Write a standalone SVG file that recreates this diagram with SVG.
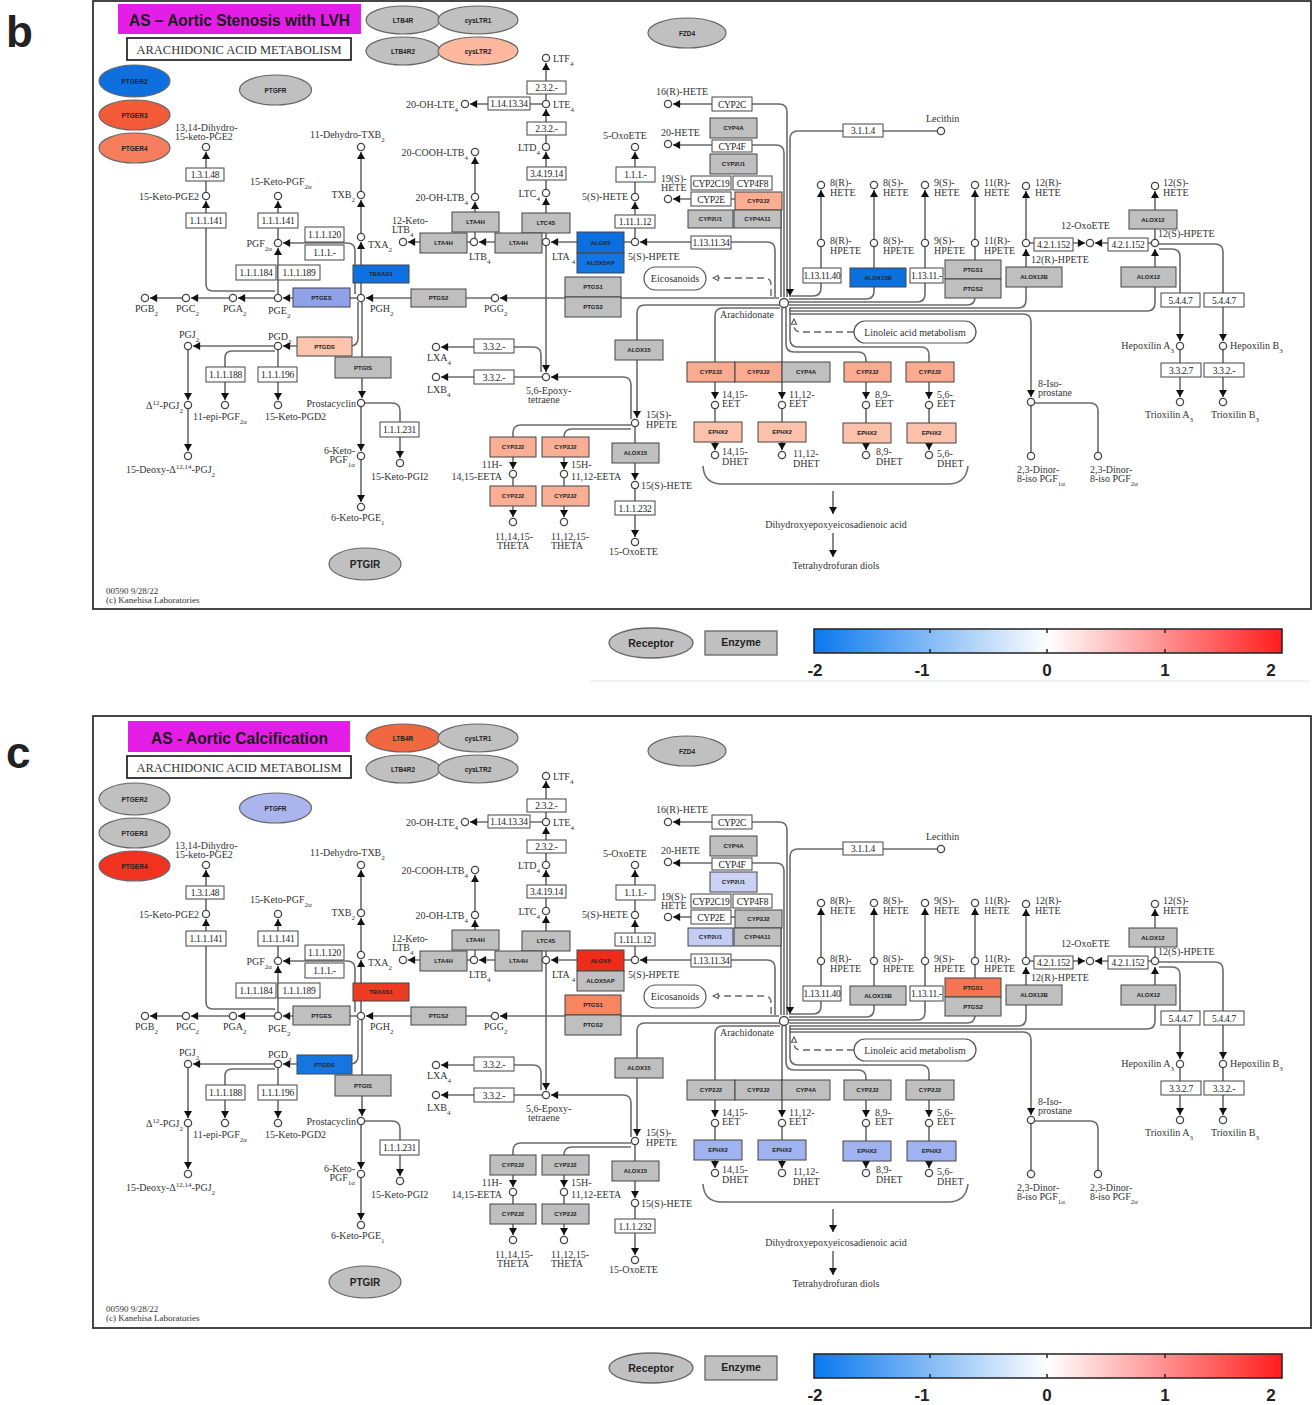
<svg xmlns="http://www.w3.org/2000/svg" width="1314" height="1405" viewBox="0 0 1314 1405">
<style>
.t{font-family:"Liberation Serif","Times New Roman",serif;font-size:10px;fill:#333}
.te{text-anchor:end}
.tm{text-anchor:middle}
.sb{font-size:7px;baseline-shift:sub}
.sp{font-size:7px;baseline-shift:super}
.ec{fill:#fff;stroke:#444;stroke-width:1}
.et{font-family:"Liberation Serif",serif;font-size:9.5px;fill:#222;text-anchor:middle;letter-spacing:-0.3px}
.gb{stroke:#444;stroke-width:1}
.gt{font-family:"Liberation Sans",Arial,sans-serif;font-size:6px;font-weight:bold;fill:#222;text-anchor:middle}
.rc{stroke:#666;stroke-width:1.2}
.rt{font-family:"Liberation Sans",Arial,sans-serif;font-size:6.5px;font-weight:bold;fill:#222;text-anchor:middle}
.c{fill:#fff;stroke:#444;stroke-width:1.3}
.l{fill:none;stroke:#6b6b6b;stroke-width:1.6}
.la{fill:none;stroke:#6b6b6b;stroke-width:1.6;marker-end:url(#ah)}
.d{fill:none;stroke:#666;stroke-width:1.4;stroke-dasharray:7 4;marker-end:url(#oa)}
.lg{font-family:"Liberation Sans",Arial,sans-serif;font-weight:bold;fill:#222}
</style>
<defs>
<linearGradient id="cb" x1="0" x2="1" y1="0" y2="0"><stop offset="0" stop-color="#0a78ee"/><stop offset="0.5" stop-color="#ffffff"/><stop offset="1" stop-color="#ff1e1e"/></linearGradient>
<marker id="ah" viewBox="0 0 8 9" refX="8" refY="4.5" markerWidth="8" markerHeight="8" markerUnits="userSpaceOnUse" orient="auto"><path d="M0,0 L8,4.5 L0,9 Z" fill="#111"/></marker>
<marker id="oa" viewBox="0 0 8 8" refX="7" refY="4" markerWidth="7" markerHeight="7" markerUnits="userSpaceOnUse" orient="auto"><path d="M1,1 L7,4 L1,7 Z" fill="#fff" stroke="#555" stroke-width="1.2"/></marker>
<g id="pw">
<g id="connectors">
<path class="la" d="M206,192V152"/>
<path class="la" d="M275,291H213Q206,291 206,284V201"/>
<path class="la" d="M278,239V201"/>
<path class="la" d="M278,294V248"/>
<path class="la" d="M355,294V251Q355,243 347,243H283"/>
<path class="la" d="M361,294V242"/>
<path class="la" d="M361,233V200"/>
<path class="la" d="M361,191V152"/>
<path class="la" d="M357,298H283"/>
<path class="la" d="M274,298H238"/>
<path class="la" d="M229,298H191"/>
<path class="la" d="M182,298H150"/>
<path class="la" d="M358,302V338Q358,346 350,346H283"/>
<path class="la" d="M362,302V398"/>
<path class="la" d="M274,346H193"/>
<path class="la" d="M278,350V400"/>
<path class="la" d="M275,351H232Q225,351 225,358V400"/>
<path class="la" d="M188,350V400"/>
<path class="la" d="M188,409V451"/>
<path class="la" d="M361,407V451"/>
<path class="la" d="M361,460V502"/>
<path class="la" d="M365,403H392Q400,403 400,411V458"/>
<path class="la" d="M491,298H366"/>
<path class="la" d="M779,298H500"/>
<path class="la" d="M631,242H551"/>
<path class="la" d="M542,242H479"/>
<path class="la" d="M470,242H408"/>
<path class="la" d="M475,238V202"/>
<path class="la" d="M475,193V157"/>
<path class="la" d="M546,238V198"/>
<path class="la" d="M546,189V152"/>
<path class="la" d="M546,143V109"/>
<path class="la" d="M546,100V63"/>
<path class="la" d="M542,104H470"/>
<path class="la" d="M546,246V372"/>
<path class="la" d="M541,372V355Q541,347 533,347H441"/>
<path class="la" d="M542,377H441"/>
<path class="la" d="M631,419V385Q631,377 623,377H551"/>
<path class="la" d="M635,238V202"/>
<path class="la" d="M635,193V152"/>
<path class="la" d="M775,297V250Q775,242 767,242H640"/>
<path class="la" d="M787,297V112Q787,104 779,104H673"/>
<path class="la" d="M784,297V153Q784,145 776,145H673"/>
<path class="la" d="M781,297V207Q781,199 773,199H673"/>
<path class="la" d="M937,131H798Q790,131 790,139V296"/>
<path class="d" d="M771,296V285Q771,278 764,278H713"/>
<path class="d" d="M854,332H801Q794,332 794,325V319"/>
<path class="l" d="M789,296H813Q821,296 821,288V247"/>
<path class="l" d="M789,299H866Q874,299 874,291V247"/>
<path class="l" d="M789,302H917Q925,302 925,294V247"/>
<path class="l" d="M789,305H967Q975,305 975,297V247"/>
<path class="la" d="M789,308H1018Q1026,308 1026,300V249"/>
<path class="la" d="M789,311H1147Q1155,311 1155,303V249"/>
<path class="la" d="M789,314H1023Q1031,314 1031,322V397"/>
<path class="la" d="M821,239V190"/>
<path class="la" d="M874,239V190"/>
<path class="la" d="M925,239V190"/>
<path class="la" d="M975,239V190"/>
<path class="la" d="M1026,239V191"/>
<path class="la" d="M1155,239V191"/>
<path class="la" d="M1030,243H1085"/>
<path class="la" d="M1151,243H1095"/>
<path class="la" d="M1159,244H1215Q1223,244 1223,252V341"/>
<path class="la" d="M1159,249H1172Q1180,249 1180,257V341"/>
<path class="la" d="M1180,350V397"/>
<path class="la" d="M1223,350V397"/>
<path class="l" d="M1031,406V452"/>
<path class="l" d="M1035,403H1090Q1098,403 1098,411V452"/>
<path class="la" d="M780,308H723Q715,308 715,316V399"/>
<path class="la" d="M782,308V399"/>
<path class="la" d="M786,308V344Q786,352 794,352H858Q866,352 866,360V399"/>
<path class="la" d="M790,308V339Q790,347 798,347H921Q929,347 929,355V399"/>
<path class="la" d="M715,409V450"/>
<path class="la" d="M782,409V450"/>
<path class="la" d="M866,409V450"/>
<path class="la" d="M929,409V450"/>
<path class="la" d="M780,305H645Q637,305 637,313V418"/>
<path class="la" d="M635,427V480"/>
<path class="la" d="M635,489V537"/>
<path class="la" d="M631,425H521Q513,425 513,433V469"/>
<path class="la" d="M631,429H572Q564,429 564,437V469"/>
<path class="la" d="M513,478V517"/>
<path class="la" d="M564,478V517"/>
<path class="l" d="M703,466Q704,484 722,484H948Q966,484 968,466"/>
<path class="la" d="M833,491V514"/>
<path class="la" d="M833,533V557"/>
</g>
<g id="ec-boxes">
<g id="ec-1.3.1.48"><rect class="ec" x="186" y="168" width="38" height="13"/><text class="et" x="205" y="178">1.3.1.48</text></g>
<g id="ec-1.1.1.141a"><rect class="ec" x="186" y="213" width="40" height="15"/><text class="et" x="206" y="224">1.1.1.141</text></g>
<g id="ec-1.1.1.141b"><rect class="ec" x="258" y="213" width="40" height="15"/><text class="et" x="278" y="224">1.1.1.141</text></g>
<g id="ec-1.1.1.120"><rect class="ec" x="305" y="227" width="39" height="15"/><text class="et" x="324.5" y="238">1.1.1.120</text></g>
<g id="ec-1.1.1.-a"><rect class="ec" x="305" y="245" width="39" height="15"/><text class="et" x="324.5" y="256">1.1.1.-</text></g>
<g id="ec-1.1.1.184"><rect class="ec" x="236" y="265" width="40" height="15"/><text class="et" x="256" y="276">1.1.1.184</text></g>
<g id="ec-1.1.1.189"><rect class="ec" x="278" y="265" width="42" height="15"/><text class="et" x="299" y="276">1.1.1.189</text></g>
<g id="ec-1.1.1.188"><rect class="ec" x="206" y="367" width="39" height="15"/><text class="et" x="225.5" y="378">1.1.1.188</text></g>
<g id="ec-1.1.1.196"><rect class="ec" x="258" y="367" width="39" height="15"/><text class="et" x="277.5" y="378">1.1.1.196</text></g>
<g id="ec-1.1.1.231"><rect class="ec" x="380" y="422" width="39" height="15"/><text class="et" x="399.5" y="433">1.1.1.231</text></g>
<g id="ec-2.3.2.-a"><rect class="ec" x="527" y="81" width="39" height="13"/><text class="et" x="546.5" y="91">2.3.2.-</text></g>
<g id="ec-1.14.13.34"><rect class="ec" x="488" y="97" width="42" height="13"/><text class="et" x="509" y="107">1.14.13.34</text></g>
<g id="ec-2.3.2.-b"><rect class="ec" x="527" y="122" width="39" height="13"/><text class="et" x="546.5" y="132">2.3.2.-</text></g>
<g id="ec-3.4.19.14"><rect class="ec" x="527" y="167" width="39" height="13"/><text class="et" x="546.5" y="177">3.4.19.14</text></g>
<g id="ec-1.1.1.-b"><rect class="ec" x="616" y="167" width="39" height="15"/><text class="et" x="635.5" y="178">1.1.1.-</text></g>
<g id="ec-1.11.1.12"><rect class="ec" x="615" y="215" width="40" height="13"/><text class="et" x="635" y="225">1.11.1.12</text></g>
<g id="ec-1.13.11.34"><rect class="ec" x="691" y="236" width="40" height="13"/><text class="et" x="711" y="246">1.13.11.34</text></g>
<g id="ec-CYP2C"><rect class="ec" x="712" y="97" width="40" height="14"/><text class="et" x="732" y="108">CYP2C</text></g>
<g id="ec-CYP4F"><rect class="ec" x="712" y="140" width="40" height="12"/><text class="et" x="732" y="150">CYP4F</text></g>
<g id="ec-CYP2C19"><rect class="ec" x="691" y="176" width="40" height="14"/><text class="et" x="711" y="187">CYP2C19</text></g>
<g id="ec-CYP4F8"><rect class="ec" x="733" y="176" width="39" height="14"/><text class="et" x="752.5" y="187">CYP4F8</text></g>
<g id="ec-CYP2E"><rect class="ec" x="691" y="192" width="40" height="14"/><text class="et" x="711" y="203">CYP2E</text></g>
<g id="ec-3.1.1.4"><rect class="ec" x="843" y="124" width="40" height="13"/><text class="et" x="863" y="134">3.1.1.4</text></g>
<g id="ec-1.13.11.40"><rect class="ec" x="803" y="268" width="38" height="15"/><text class="et" x="822" y="279">1.13.11.40</text></g>
<g id="ec-1.13.11.-"><rect class="ec" x="910" y="268" width="33" height="15"/><text class="et" x="926.5" y="279">1.13.11.-</text></g>
<g id="ec-4.2.1.152a"><rect class="ec" x="1034" y="238" width="39" height="13"/><text class="et" x="1053.5" y="248">4.2.1.152</text></g>
<g id="ec-4.2.1.152b"><rect class="ec" x="1108" y="238" width="40" height="13"/><text class="et" x="1128" y="248">4.2.1.152</text></g>
<g id="ec-5.4.4.7a"><rect class="ec" x="1161" y="293" width="39" height="14"/><text class="et" x="1180.5" y="304">5.4.4.7</text></g>
<g id="ec-5.4.4.7b"><rect class="ec" x="1204" y="293" width="40" height="14"/><text class="et" x="1224" y="304">5.4.4.7</text></g>
<g id="ec-3.3.2.7"><rect class="ec" x="1161" y="363" width="40" height="14"/><text class="et" x="1181" y="374">3.3.2.7</text></g>
<g id="ec-3.3.2.-c"><rect class="ec" x="1204" y="363" width="40" height="14"/><text class="et" x="1224" y="374">3.3.2.-</text></g>
<g id="ec-3.3.2.-d"><rect class="ec" x="474" y="339" width="40" height="14"/><text class="et" x="494" y="350">3.3.2.-</text></g>
<g id="ec-3.3.2.-e"><rect class="ec" x="474" y="370" width="40" height="14"/><text class="et" x="494" y="381">3.3.2.-</text></g>
<g id="ec-1.1.1.232"><rect class="ec" x="615" y="501" width="40" height="14"/><text class="et" x="635" y="512">1.1.1.232</text></g>
</g>
<g id="genes">
<g id="g-TBXAS1"><rect class="gb" style="fill:var(--TBXAS1,#bfbfbf)" x="353" y="265" width="56" height="18"/><text class="gt" x="381" y="276">TBXAS1</text></g>
<g id="g-PTGES"><rect class="gb" style="fill:var(--PTGES,#bfbfbf)" x="293" y="288" width="57" height="19"/><text class="gt" x="321.5" y="299.5">PTGES</text></g>
<g id="g-PTGDS"><rect class="gb" style="fill:var(--PTGDS,#bfbfbf)" x="297" y="337" width="55" height="19"/><text class="gt" x="324.5" y="348.5">PTGDS</text></g>
<g id="g-PTGIS"><rect class="gb" style="fill:var(--PTGIS,#bfbfbf)" x="335" y="357" width="56" height="21"/><text class="gt" x="363" y="369.5">PTGIS</text></g>
<g id="g-PTGS2a"><rect class="gb" style="fill:var(--PTGS2a,#bfbfbf)" x="411" y="289" width="55" height="18"/><text class="gt" x="438.5" y="300">PTGS2</text></g>
<g id="g-LTA4Ha"><rect class="gb" style="fill:var(--LTA4H,#bfbfbf)" x="452" y="212" width="47" height="20"/><text class="gt" x="475.5" y="224">LTA4H</text></g>
<g id="g-LTC4S"><rect class="gb" style="fill:var(--LTC4S,#bfbfbf)" x="522" y="213" width="48" height="20"/><text class="gt" x="546" y="225">LTC4S</text></g>
<g id="g-LTA4Hb"><rect class="gb" style="fill:var(--LTA4H,#bfbfbf)" x="420" y="233" width="47" height="20"/><text class="gt" x="443.5" y="245">LTA4H</text></g>
<g id="g-LTA4Hc"><rect class="gb" style="fill:var(--LTA4H,#bfbfbf)" x="495" y="233" width="47" height="20"/><text class="gt" x="518.5" y="245">LTA4H</text></g>
<g id="g-ALOX5"><rect class="gb" style="fill:var(--ALOX5,#bfbfbf)" x="577" y="232" width="47" height="21"/><text class="gt" x="600.5" y="244.5">ALOX5</text></g>
<g id="g-ALOX5AP"><rect class="gb" style="fill:var(--ALOX5AP,#bfbfbf)" x="577" y="253" width="47" height="20"/><text class="gt" x="600.5" y="265">ALOX5AP</text></g>
<g id="g-PTGS1m"><rect class="gb" style="fill:var(--PTGS1m,#bfbfbf)" x="565" y="277" width="56" height="20"/><text class="gt" x="593" y="289">PTGS1</text></g>
<g id="g-PTGS2m"><rect class="gb" style="fill:var(--PTGS2m,#bfbfbf)" x="565" y="297" width="56" height="20"/><text class="gt" x="593" y="309">PTGS2</text></g>
<g id="g-ALOX15a"><rect class="gb" style="fill:var(--ALOX15,#bfbfbf)" x="615" y="340" width="48" height="20"/><text class="gt" x="639" y="352">ALOX15</text></g>
<g id="g-ALOX15b"><rect class="gb" style="fill:var(--ALOX15,#bfbfbf)" x="612" y="443" width="47" height="20"/><text class="gt" x="635.5" y="455">ALOX15</text></g>
<g id="g-CYP4Aa"><rect class="gb" style="fill:var(--CYP4A,#bfbfbf)" x="710" y="118" width="47" height="20"/><text class="gt" x="733.5" y="130">CYP4A</text></g>
<g id="g-CYP2U1t"><rect class="gb" style="fill:var(--CYP2U1t,#bfbfbf)" x="710" y="154" width="47" height="20"/><text class="gt" x="733.5" y="166">CYP2U1</text></g>
<g id="g-CYP2J2t"><rect class="gb" style="fill:var(--CYP2J2t,#bfbfbf)" x="735" y="192" width="47" height="18"/><text class="gt" x="758.5" y="203">CYP2J2</text></g>
<g id="g-CYP2U1l"><rect class="gb" style="fill:var(--CYP2U1l,#bfbfbf)" x="688" y="210" width="45" height="18"/><text class="gt" x="710.5" y="221">CYP2U1</text></g>
<g id="g-CYP4A11"><rect class="gb" style="fill:var(--CYP4A11,#bfbfbf)" x="734" y="210" width="47" height="18"/><text class="gt" x="757.5" y="221">CYP4A11</text></g>
<g id="g-ALOX15B"><rect class="gb" style="fill:var(--ALOX15B,#bfbfbf)" x="850" y="268" width="56" height="19"/><text class="gt" x="878" y="279.5">ALOX15B</text></g>
<g id="g-PTGS1r"><rect class="gb" style="fill:var(--PTGS1r,#bfbfbf)" x="945" y="260" width="56" height="19"/><text class="gt" x="973" y="271.5">PTGS1</text></g>
<g id="g-PTGS2r"><rect class="gb" style="fill:var(--PTGS2r,#bfbfbf)" x="945" y="279" width="56" height="19"/><text class="gt" x="973" y="290.5">PTGS2</text></g>
<g id="g-ALOX12B"><rect class="gb" style="fill:var(--ALOX12B,#bfbfbf)" x="1006" y="267" width="56" height="20"/><text class="gt" x="1034" y="279">ALOX12B</text></g>
<g id="g-ALOX12a"><rect class="gb" style="fill:var(--ALOX12,#bfbfbf)" x="1129" y="210" width="48" height="19"/><text class="gt" x="1153" y="221.5">ALOX12</text></g>
<g id="g-ALOX12b"><rect class="gb" style="fill:var(--ALOX12,#bfbfbf)" x="1121" y="267" width="55" height="20"/><text class="gt" x="1148.5" y="279">ALOX12</text></g>
<g id="g-CYP2J2r1"><rect class="gb" style="fill:var(--CYP2J2r,#bfbfbf)" x="687" y="362" width="48" height="20"/><text class="gt" x="711" y="374">CYP2J2</text></g>
<g id="g-CYP2J2r2"><rect class="gb" style="fill:var(--CYP2J2r,#bfbfbf)" x="735" y="362" width="47" height="20"/><text class="gt" x="758.5" y="374">CYP2J2</text></g>
<g id="g-CYP4Ab"><rect class="gb" style="fill:var(--CYP4A,#bfbfbf)" x="782" y="362" width="48" height="20"/><text class="gt" x="806" y="374">CYP4A</text></g>
<g id="g-CYP2J2r3"><rect class="gb" style="fill:var(--CYP2J2r,#bfbfbf)" x="844" y="362" width="47" height="20"/><text class="gt" x="867.5" y="374">CYP2J2</text></g>
<g id="g-CYP2J2r4"><rect class="gb" style="fill:var(--CYP2J2r,#bfbfbf)" x="906" y="362" width="48" height="20"/><text class="gt" x="930" y="374">CYP2J2</text></g>
<g id="g-EPHX2a"><rect class="gb" style="fill:var(--EPHX2,#bfbfbf)" x="694" y="422" width="48" height="20"/><text class="gt" x="718" y="434">EPHX2</text></g>
<g id="g-EPHX2b"><rect class="gb" style="fill:var(--EPHX2,#bfbfbf)" x="758" y="422" width="48" height="20"/><text class="gt" x="782" y="434">EPHX2</text></g>
<g id="g-EPHX2c"><rect class="gb" style="fill:var(--EPHX2,#bfbfbf)" x="843" y="423" width="48" height="20"/><text class="gt" x="867" y="435">EPHX2</text></g>
<g id="g-EPHX2d"><rect class="gb" style="fill:var(--EPHX2,#bfbfbf)" x="907" y="423" width="49" height="20"/><text class="gt" x="931.5" y="435">EPHX2</text></g>
<g id="g-CYP2J2h1"><rect class="gb" style="fill:var(--CYP2J2h,#bfbfbf)" x="490" y="437" width="46" height="20"/><text class="gt" x="513" y="449">CYP2J2</text></g>
<g id="g-CYP2J2h2"><rect class="gb" style="fill:var(--CYP2J2h,#bfbfbf)" x="542" y="437" width="47" height="20"/><text class="gt" x="565.5" y="449">CYP2J2</text></g>
<g id="g-CYP2J2h3"><rect class="gb" style="fill:var(--CYP2J2h,#bfbfbf)" x="490" y="486" width="46" height="20"/><text class="gt" x="513" y="498">CYP2J2</text></g>
<g id="g-CYP2J2h4"><rect class="gb" style="fill:var(--CYP2J2h,#bfbfbf)" x="542" y="486" width="47" height="20"/><text class="gt" x="565.5" y="498">CYP2J2</text></g>
</g>
<g id="receptors">
<g id="r-LTB4R"><ellipse class="rc" style="fill:var(--LTB4R,#c0c0c0)" cx="403" cy="20" rx="37" ry="14"/><text class="rt" x="403" y="22.5">LTB4R</text></g>
<g id="r-cysLTR1"><ellipse class="rc" style="fill:var(--cysLTR1,#c0c0c0)" cx="478" cy="20" rx="40" ry="14"/><text class="rt" x="478" y="22.5">cysLTR1</text></g>
<g id="r-LTB4R2"><ellipse class="rc" style="fill:var(--LTB4R2,#c0c0c0)" cx="403" cy="51" rx="37" ry="14"/><text class="rt" x="403" y="53.5">LTB4R2</text></g>
<g id="r-cysLTR2"><ellipse class="rc" style="fill:var(--cysLTR2,#c0c0c0)" cx="478" cy="51" rx="40" ry="14"/><text class="rt" x="478" y="53.5">cysLTR2</text></g>
<g id="r-FZD4"><ellipse class="rc" style="fill:var(--FZD4,#c0c0c0)" cx="687" cy="33" rx="39" ry="15"/><text class="rt" x="687" y="35.5">FZD4</text></g>
<g id="r-PTGER2"><ellipse class="rc" style="fill:var(--PTGER2,#c0c0c0)" cx="134.5" cy="81" rx="35.5" ry="16"/><text class="rt" x="134.5" y="83.5">PTGER2</text></g>
<g id="r-PTGER3"><ellipse class="rc" style="fill:var(--PTGER3,#c0c0c0)" cx="134.5" cy="115" rx="35.5" ry="15"/><text class="rt" x="134.5" y="117.5">PTGER3</text></g>
<g id="r-PTGER4"><ellipse class="rc" style="fill:var(--PTGER4,#c0c0c0)" cx="134.5" cy="148" rx="35.5" ry="15"/><text class="rt" x="134.5" y="150.5">PTGER4</text></g>
<g id="r-PTGFR"><ellipse class="rc" style="fill:var(--PTGFR,#c0c0c0)" cx="275.5" cy="90" rx="36" ry="15"/><text class="rt" x="275.5" y="92.5">PTGFR</text></g>
<g id="r-PTGIR"><ellipse class="rc" style="fill:var(--PTGIR,#c0c0c0)" cx="365" cy="564" rx="36" ry="16"/><text class="rt" x="365" y="568" style="font-size:10px">PTGIR</text></g>
</g>
<g id="compounds">
<g id="n-dhkPGE2"><circle class="c" cx="206" cy="147" r="3.6"/><text class="t" x="175" y="131">13,14-Dihydro-</text><text class="t" x="175" y="140">15-keto-PGE2</text></g>
<g id="n-kPGE2"><circle class="c" cx="206" cy="196" r="3.6"/><text class="t te" x="199" y="200">15-Keto-PGE2</text></g>
<g id="n-kPGF2a"><circle class="c" cx="278" cy="196" r="3.6"/><text class="t" x="250" y="185">15-Keto-PGF<tspan class="sb">2α</tspan></text></g>
<g id="n-dTXB2"><circle class="c" cx="361" cy="147" r="3.6"/><text class="t" x="310" y="138">11-Dehydro-TXB<tspan class="sb">2</tspan></text></g>
<g id="n-TXB2"><circle class="c" cx="361" cy="195" r="3.6"/><text class="t te" x="355" y="198">TXB<tspan class="sb">2</tspan></text></g>
<g id="n-PGF2a"><circle class="c" cx="278" cy="243" r="3.6"/><text class="t te" x="272" y="247">PGF<tspan class="sb">2α</tspan></text></g>
<g id="n-TXA2"><circle class="c" cx="361" cy="237" r="3.6"/><text class="t" x="368" y="248">TXA<tspan class="sb">2</tspan></text></g>
<g id="n-PGB2"><circle class="c" cx="145" cy="298" r="3.6"/><text class="t" x="135" y="312">PGB<tspan class="sb">2</tspan></text></g>
<g id="n-PGC2"><circle class="c" cx="186" cy="298" r="3.6"/><text class="t" x="176" y="312">PGC<tspan class="sb">2</tspan></text></g>
<g id="n-PGA2"><circle class="c" cx="233" cy="298" r="3.6"/><text class="t" x="223" y="312">PGA<tspan class="sb">2</tspan></text></g>
<g id="n-PGE2"><circle class="c" cx="278" cy="298" r="3.6"/><text class="t" x="268" y="314">PGE<tspan class="sb">2</tspan></text></g>
<g id="n-PGH2"><circle class="c" cx="361" cy="298" r="3.6"/><text class="t" x="370" y="312">PGH<tspan class="sb">2</tspan></text></g>
<g id="n-PGJ2"><circle class="c" cx="188" cy="346" r="3.6"/><text class="t" x="179" y="338">PGJ<tspan class="sb">2</tspan></text></g>
<g id="n-PGD2"><circle class="c" cx="278" cy="346" r="3.6"/><text class="t" x="268" y="340">PGD<tspan class="sb">2</tspan></text></g>
<g id="n-d12PGJ2"><circle class="c" cx="188" cy="405" r="3.6"/><text class="t te" x="183" y="409">Δ<tspan class="sp">12</tspan>-PGJ<tspan class="sb">2</tspan></text></g>
<g id="n-epiPGF2a"><circle class="c" cx="225" cy="405" r="3.6"/><text class="t" x="193" y="420">11-epi-PGF<tspan class="sb">2α</tspan></text></g>
<g id="n-kPGD2"><circle class="c" cx="278" cy="405" r="3.6"/><text class="t" x="265" y="420">15-Keto-PGD2</text></g>
<g id="n-PGI2"><circle class="c" cx="361" cy="403" r="3.6"/><text class="t te" x="356" y="407">Prostacyclin</text></g>
<g id="n-dPGJ2"><circle class="c" cx="188" cy="456" r="3.6"/><text class="t" x="126" y="473">15-Deoxy-Δ<tspan class="sp">12,14</tspan>-PGJ<tspan class="sb">2</tspan></text></g>
<g id="n-kPGF1a"><circle class="c" cx="361" cy="456" r="3.6"/><text class="t te" x="355" y="454">6-Keto-</text><text class="t te" x="355" y="463">PGF<tspan class="sb">1α</tspan></text></g>
<g id="n-kPGI2"><circle class="c" cx="400" cy="463" r="3.6"/><text class="t" x="371" y="480">15-Keto-PGI2</text></g>
<g id="n-kPGE1"><circle class="c" cx="361" cy="507" r="3.6"/><text class="t" x="331" y="521">6-Keto-PGE<tspan class="sb">1</tspan></text></g>
<g id="n-LTF4"><circle class="c" cx="546" cy="58" r="3.6"/><text class="t" x="553" y="62">LTF<tspan class="sb">4</tspan></text></g>
<g id="n-LTE4"><circle class="c" cx="546" cy="104" r="3.6"/><text class="t" x="553" y="108">LTE<tspan class="sb">4</tspan></text></g>
<g id="n-OHLTE4"><circle class="c" cx="465" cy="104" r="3.6"/><text class="t te" x="458" y="108">20-OH-LTE<tspan class="sb">4</tspan></text></g>
<g id="n-LTD4"><circle class="c" cx="546" cy="147" r="3.6"/><text class="t te" x="540" y="151">LTD<tspan class="sb">4</tspan></text></g>
<g id="n-LTC4"><circle class="c" cx="546" cy="193" r="3.6"/><text class="t te" x="540" y="197">LTC<tspan class="sb">4</tspan></text></g>
<g id="n-COOHLTB4"><circle class="c" cx="475" cy="152" r="3.6"/><text class="t te" x="468" y="156">20-COOH-LTB<tspan class="sb">4</tspan></text></g>
<g id="n-OHLTB4"><circle class="c" cx="475" cy="197" r="3.6"/><text class="t te" x="468" y="201">20-OH-LTB<tspan class="sb">4</tspan></text></g>
<g id="n-kLTB4"><circle class="c" cx="403" cy="242" r="3.6"/><text class="t" x="392" y="224">12-Keto-</text><text class="t" x="392" y="233">LTB<tspan class="sb">4</tspan></text></g>
<g id="n-LTB4"><circle class="c" cx="474" cy="242" r="3.6"/><text class="t" x="469" y="260">LTB<tspan class="sb">4</tspan></text></g>
<g id="n-LTA4"><circle class="c" cx="546" cy="242" r="3.6"/><text class="t" x="552" y="260">LTA <tspan class="sb">4</tspan></text></g>
<g id="n-oxoETE5"><circle class="c" cx="635" cy="147" r="3.6"/><text class="t" x="603" y="139">5-OxoETE</text></g>
<g id="n-HETE5"><circle class="c" cx="635" cy="197" r="3.6"/><text class="t te" x="628" y="200">5(S)-HETE</text></g>
<g id="n-HPETE5"><circle class="c" cx="635" cy="242" r="3.6"/><text class="t" x="628" y="260">5(S)-HPETE</text></g>
<g id="n-HETE16"><circle class="c" cx="668" cy="104" r="3.6"/><text class="t" x="656" y="95">16(R)-HETE</text></g>
<g id="n-HETE20"><circle class="c" cx="668" cy="144" r="3.6"/><text class="t" x="661" y="136">20-HETE</text></g>
<g id="n-HETE19"><circle class="c" cx="668" cy="199" r="3.6"/><text class="t" x="661" y="182">19(S)-</text><text class="t" x="661" y="191">HETE</text></g>
<g id="n-PGG2"><circle class="c" cx="495" cy="298" r="3.6"/><text class="t" x="484" y="312">PGG<tspan class="sb">2</tspan></text></g>
<g id="n-LXA4"><circle class="c" cx="436" cy="347" r="3.6"/><text class="t" x="427" y="361">LXA<tspan class="sb">4</tspan></text></g>
<g id="n-LXB4"><circle class="c" cx="436" cy="377" r="3.6"/><text class="t" x="427" y="393">LXB<tspan class="sb">4</tspan></text></g>
<g id="n-epoxy"><circle class="c" cx="546" cy="377" r="3.6"/><text class="t" x="526" y="394">5,6-Epoxy-</text><text class="t" x="528" y="403">tetraene</text></g>
<g id="n-HPETE15"><circle class="c" cx="635" cy="423" r="3.6"/><text class="t" x="646" y="418">15(S)-</text><text class="t" x="646" y="428">HPETE</text></g>
<g id="n-HETE15"><circle class="c" cx="635" cy="485" r="3.6"/><text class="t" x="641" y="489">15(S)-HETE</text></g>
<g id="n-oxoETE15"><circle class="c" cx="635" cy="542" r="3.6"/><text class="t" x="609" y="555">15-OxoETE</text></g>
<g id="n-EETA1415"><circle class="c" cx="513" cy="474" r="3.6"/><text class="t te" x="502" y="468">11H-</text><text class="t te" x="502" y="480">14,15-EETA</text></g>
<g id="n-EETA1112"><circle class="c" cx="564" cy="474" r="3.6"/><text class="t" x="571" y="468">15H-</text><text class="t" x="571" y="480">11,12-EETA</text></g>
<g id="n-THETA1"><circle class="c" cx="513" cy="522" r="3.6"/><text class="t" x="495" y="540">11,14,15-</text><text class="t" x="497" y="549">THETA</text></g>
<g id="n-THETA2"><circle class="c" cx="564" cy="522" r="3.6"/><text class="t" x="551" y="540">11,12,15-</text><text class="t" x="551" y="549">THETA</text></g>
<g id="n-lecithin"><circle class="c" cx="941" cy="131" r="3.6"/><text class="t" x="926" y="122">Lecithin</text></g>
<g id="n-arachidonate"><circle class="c" cx="784" cy="303" r="4.5"/><text class="t" x="720" y="318">Arachidonate</text></g>
<g id="n-HETE8R"><circle class="c" cx="821" cy="185" r="3.6"/><text class="t" x="830" y="186">8(R)-</text><text class="t" x="830" y="196">HETE</text></g>
<g id="n-HETE8S"><circle class="c" cx="874" cy="185" r="3.6"/><text class="t" x="883" y="186">8(S)-</text><text class="t" x="883" y="196">HETE</text></g>
<g id="n-HETE9S"><circle class="c" cx="925" cy="185" r="3.6"/><text class="t" x="934" y="186">9(S)-</text><text class="t" x="934" y="196">HETE</text></g>
<g id="n-HETE11R"><circle class="c" cx="975" cy="185" r="3.6"/><text class="t" x="984" y="186">11(R)-</text><text class="t" x="984" y="196">HETE</text></g>
<g id="n-HETE12R"><circle class="c" cx="1026" cy="186" r="3.6"/><text class="t" x="1035" y="186">12(R)-</text><text class="t" x="1035" y="196">HETE</text></g>
<g id="n-HETE12S"><circle class="c" cx="1155" cy="186" r="3.6"/><text class="t" x="1163" y="186">12(S)-</text><text class="t" x="1163" y="196">HETE</text></g>
<g id="n-HPETE8R"><circle class="c" cx="821" cy="243" r="3.6"/><text class="t" x="830" y="244">8(R)-</text><text class="t" x="830" y="254">HPETE</text></g>
<g id="n-HPETE8S"><circle class="c" cx="874" cy="243" r="3.6"/><text class="t" x="883" y="244">8(S)-</text><text class="t" x="883" y="254">HPETE</text></g>
<g id="n-HPETE9S"><circle class="c" cx="925" cy="243" r="3.6"/><text class="t" x="934" y="244">9(S)-</text><text class="t" x="934" y="254">HPETE</text></g>
<g id="n-HPETE11R"><circle class="c" cx="975" cy="243" r="3.6"/><text class="t" x="984" y="244">11(R)-</text><text class="t" x="984" y="254">HPETE</text></g>
<g id="n-HPETE12R"><circle class="c" cx="1026" cy="243" r="3.6"/><text class="t" x="1031" y="263">12(R)-HPETE</text></g>
<g id="n-oxoETE12"><circle class="c" cx="1090" cy="243" r="3.6"/><text class="t" x="1061" y="229">12-OxoETE</text></g>
<g id="n-HPETE12S"><circle class="c" cx="1155" cy="243" r="3.6"/><text class="t" x="1158" y="237">12(S)-HPETE</text></g>
<g id="n-HxA3"><circle class="c" cx="1180" cy="346" r="3.6"/><text class="t te" x="1174" y="349">Hepoxilin A<tspan class="sb">3</tspan></text></g>
<g id="n-HxB3"><circle class="c" cx="1223" cy="346" r="3.6"/><text class="t" x="1230" y="349">Hepoxilin B<tspan class="sb">3</tspan></text></g>
<g id="n-TrA3"><circle class="c" cx="1180" cy="402" r="3.6"/><text class="t" x="1145" y="418">Trioxilin A<tspan class="sb">3</tspan></text></g>
<g id="n-TrB3"><circle class="c" cx="1223" cy="402" r="3.6"/><text class="t" x="1211" y="418">Trioxilin B<tspan class="sb">3</tspan></text></g>
<g id="n-isoP"><circle class="c" cx="1031" cy="402" r="3.6"/><text class="t" x="1038" y="387">8-Iso-</text><text class="t" x="1038" y="396">prostane</text></g>
<g id="n-dinor1"><circle class="c" cx="1031" cy="456" r="3.6"/><text class="t" x="1017" y="473">2,3-Dinor-</text><text class="t" x="1017" y="482">8-iso PGF<tspan class="sb">1α</tspan></text></g>
<g id="n-dinor2"><circle class="c" cx="1098" cy="456" r="3.6"/><text class="t" x="1090" y="473">2,3-Dinor-</text><text class="t" x="1090" y="482">8-iso PGF<tspan class="sb">2α</tspan></text></g>
<g id="n-EET1415"><circle class="c" cx="715" cy="405" r="3.6"/><text class="t" x="722" y="398">14,15-</text><text class="t" x="722" y="407">EET</text></g>
<g id="n-EET1112"><circle class="c" cx="782" cy="405" r="3.6"/><text class="t" x="789" y="398">11,12-</text><text class="t" x="789" y="407">EET</text></g>
<g id="n-EET89"><circle class="c" cx="866" cy="405" r="3.6"/><text class="t" x="875" y="398">8,9-</text><text class="t" x="875" y="407">EET</text></g>
<g id="n-EET56"><circle class="c" cx="929" cy="405" r="3.6"/><text class="t" x="937" y="398">5,6-</text><text class="t" x="937" y="407">EET</text></g>
<g id="n-DHET1415"><circle class="c" cx="715" cy="455" r="3.6"/><text class="t" x="722" y="455">14,15-</text><text class="t" x="722" y="465">DHET</text></g>
<g id="n-DHET1112"><circle class="c" cx="782" cy="455" r="3.6"/><text class="t" x="793" y="457">11,12-</text><text class="t" x="793" y="467">DHET</text></g>
<g id="n-DHET89"><circle class="c" cx="866" cy="455" r="3.6"/><text class="t" x="876" y="455">8,9-</text><text class="t" x="876" y="465">DHET</text></g>
<g id="n-DHET56"><circle class="c" cx="929" cy="455" r="3.6"/><text class="t" x="937" y="457">5,6-</text><text class="t" x="937" y="467">DHET</text></g>
</g>
<g id="misc">
<g id="map-title"><rect x="127" y="38" width="224" height="22" fill="#fff" stroke="#111" stroke-width="1.6"/><text x="239" y="54" text-anchor="middle" textLength="205" lengthAdjust="spacingAndGlyphs" style="font-family:'Liberation Serif',serif;font-size:12px;fill:#333">ARACHIDONIC ACID METABOLISM</text></g>
<g id="m-eicosanoids"><rect x="644" y="267" width="62" height="23" rx="11.5" fill="#fff" stroke="#555" stroke-width="1.2"/><text class="t tm" x="675" y="282">Eicosanoids</text></g>
<g id="m-linoleic"><rect x="854" y="321" width="122" height="22" rx="11" fill="#fff" stroke="#555" stroke-width="1.2"/><text class="t tm" x="915" y="336">Linoleic acid metabolism</text></g>
<g id="n-dhea"><text class="t tm" x="836" y="528">Dihydroxyepoxyeicosadienoic acid</text></g>
<g id="n-thf"><text class="t tm" x="836" y="569">Tetrahydrofuran diols</text></g>
<text class="t" x="106" y="594" style="font-size:9px">00590 9/28/22</text>
<text class="t" x="106" y="603" style="font-size:9px">(c) Kanehisa Laboratories</text>
</g>
</g>
<g id="legend">
<ellipse cx="651" cy="643" rx="42" ry="15" fill="#c0c0c0" stroke="#666" stroke-width="1.3"/>
<text class="lg" x="651" y="647" text-anchor="middle" style="font-size:10.5px">Receptor</text>
<rect x="705" y="631" width="72" height="24" fill="#c0c0c0" stroke="#666" stroke-width="1.3"/>
<text class="lg" x="741" y="646" text-anchor="middle" style="font-size:10.5px">Enzyme</text>
<rect x="814" y="629" width="468" height="24" fill="url(#cb)" stroke="#222" stroke-width="1.5"/>
<path d="M930,629v4M930,653v-4M1047,629v4M1047,653v-4M1165,629v4M1165,653v-4" stroke="#222" stroke-width="1.5"/>
<text class="lg" x="815" y="676" text-anchor="middle" style="font-size:17px">-2</text>
<text class="lg" x="922" y="676" text-anchor="middle" style="font-size:17px">-1</text>
<text class="lg" x="1047" y="676" text-anchor="middle" style="font-size:17px">0</text>
<text class="lg" x="1165" y="676" text-anchor="middle" style="font-size:17px">1</text>
<text class="lg" x="1271" y="676" text-anchor="middle" style="font-size:17px">2</text>
</g>
</defs>
<rect width="1314" height="1405" fill="#fff"/>
<g id="panel-b">
<text class="lg" x="6" y="47" style="font-size:44px">b</text>
<rect x="93" y="1" width="1218" height="608" fill="none" stroke="#333" stroke-width="1.8"/>
<use href="#pw" style="--PTGER2:#0e6fdf;--PTGER3:#f25a38;--PTGER4:#f67e5e;--cysLTR2:#fdb89f;--TBXAS1:#0d72df;--PTGES:#8fa1e8;--PTGDS:#fcc4ad;--ALOX5:#0b6fe0;--ALOX5AP:#1176e2;--CYP2J2t:#fbac92;--ALOX15B:#0c70df;--CYP2J2r:#f9aa8f;--EPHX2:#fcc1aa;--CYP2J2h:#f9ae95"/>
<g id="title-b"><rect x="118" y="4" width="243" height="30" fill="#e41ee6"/><text class="lg" x="129" y="26" textLength="221" lengthAdjust="spacingAndGlyphs" style="font-size:17px;fill:#1a1a1a">AS – Aortic Stenosis with LVH</text></g>
<use href="#legend"/>
<line x1="590" y1="681" x2="1310" y2="681" stroke="#e6e6e6" stroke-width="1"/>
</g>
<g id="panel-c">
<text class="lg" x="6" y="768" style="font-size:44px">c</text>
<rect x="93" y="716" width="1218" height="612" fill="none" stroke="#333" stroke-width="1.8"/>
<use href="#pw" y="718" style="--LTB4R:#f1673f;--PTGER4:#f0321f;--PTGFR:#aab5ee;--TBXAS1:#ee3c24;--PTGDS:#1576e2;--ALOX5:#ef2b1a;--PTGS1m:#f68660;--CYP2U1t:#cad2f5;--CYP2U1l:#c3ccf3;--PTGS1r:#f47453;--EPHX2:#a0b2ef"/>
<g id="title-c"><rect x="128" y="721" width="222" height="31" fill="#e41ee6"/><text class="lg" x="151" y="744" textLength="177" lengthAdjust="spacingAndGlyphs" style="font-size:17px;fill:#1a1a1a">AS - Aortic Calcification</text></g>
<use href="#legend" y="725"/>
</g>
</svg>
